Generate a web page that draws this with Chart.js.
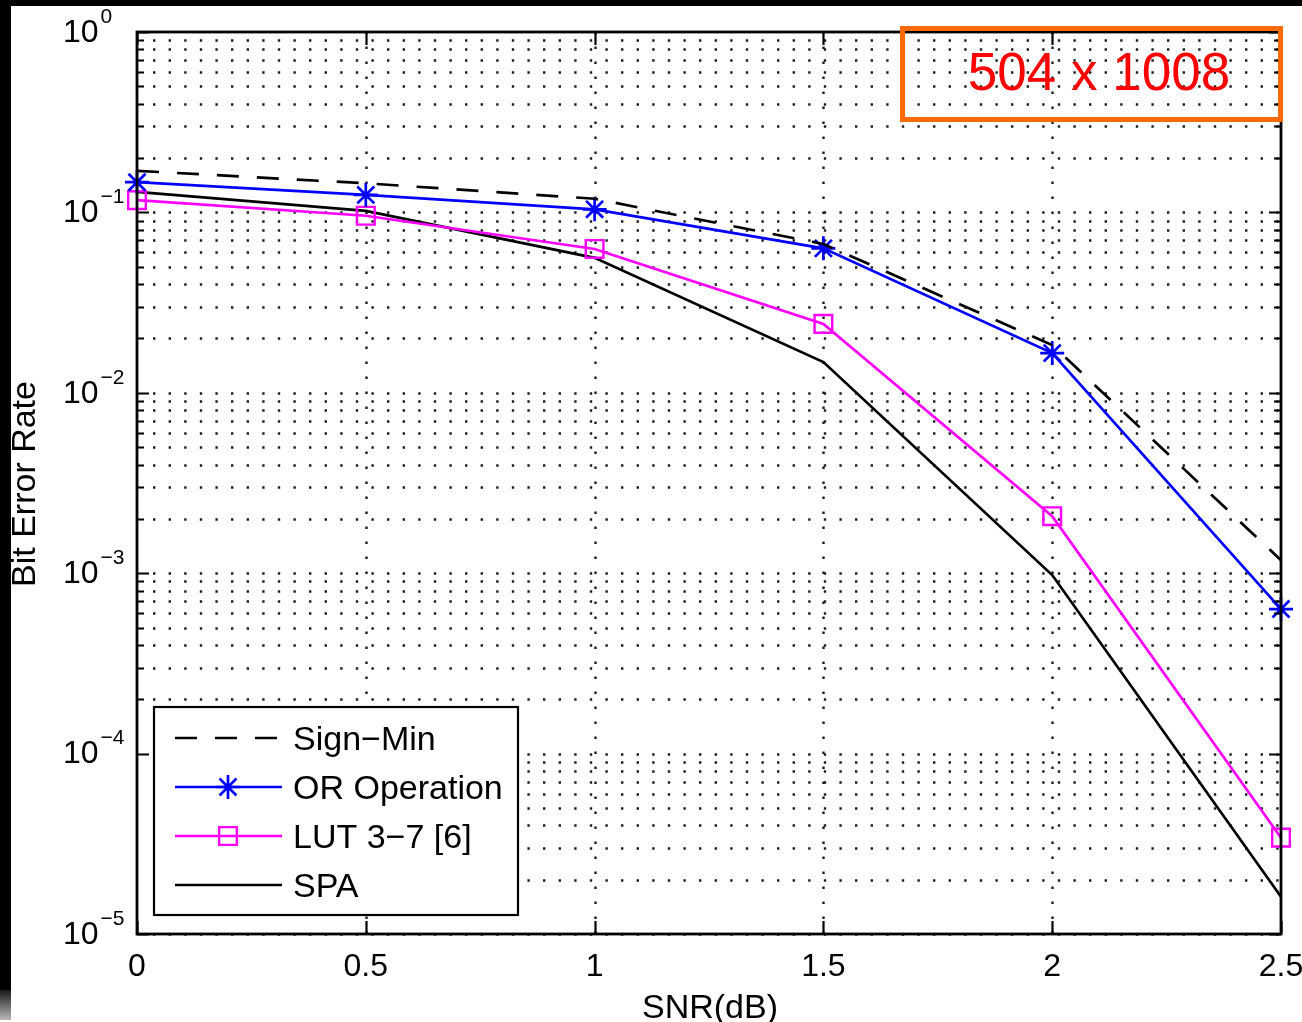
<!DOCTYPE html>
<html>
<head>
<meta charset="utf-8">
<title>BER vs SNR</title>
<script src="https://cdn.jsdelivr.net/npm/chart.js@4/dist/chart.umd.min.js"></script>
<style>
  html, body { margin: 0; padding: 0; background: #fff; }
  #wrap { position: absolute; left: 0; top: 0; width: 1302px; height: 1022px; }
</style>
</head>
<body>
<div id="wrap"><canvas id="ber" width="1302" height="1022"></canvas></div>
<script>
// SNR points (dB) and bit error rates for each decoder
var snr = [0, 0.5, 1, 1.5, 2, 2.5];
var signMin = [0.170, 0.145, 0.119, 0.0668, 0.0184, 0.00118];
var orOperation = [0.147, 0.125, 0.104, 0.0632, 0.0166, 0.000633];
var lut37 = [0.117, 0.0958, 0.0627, 0.0241, 0.00207, 0.0000342];
var spa = [0.130, 0.102, 0.056, 0.0148, 0.000977, 0.0000161];

var xTicks = [0, 0.5, 1, 1.5, 2, 2.5];
var xTickLabels = ["0", "0.5", "1", "1.5", "2", "2.5"];
var yDecades = [0, -1, -2, -3, -4, -5];

var FONT = "'Liberation Sans', Arial, Helvetica, sans-serif";

function points(values) {
  return snr.map(function (x, i) { return { x: x, y: values[i] }; });
}

var matlabAxes = {
  id: "matlabAxes",
  beforeDraw: function (chart) {
    var ctx = chart.ctx;
    ctx.save();
    ctx.fillStyle = "#fff";
    ctx.fillRect(0, 0, chart.width, chart.height);
    // dark border of the scanned figure
    ctx.fillStyle = "#000";
    ctx.fillRect(0, 0, chart.width, 6);
    ctx.fillRect(0, 0, 11, 990);
    var g = ctx.createLinearGradient(0, 990, 0, 1020);
    g.addColorStop(0, "#1a1a1a");
    g.addColorStop(1, "#b8b8b8");
    ctx.fillStyle = g;
    ctx.fillRect(0, 990, 11, 30);
    ctx.restore();
  },
  beforeDatasetsDraw: function (chart) {
    var ctx = chart.ctx;
    var a = chart.chartArea;
    var xs = chart.scales.x;
    var ys = chart.scales.y;
    ctx.save();
    ctx.strokeStyle = "#1e1e1e";
    ctx.lineWidth = 2.4;
    ctx.setLineDash([2.4, 13.2]);
    // dotted horizontal grid at every 1..9 x 10^n
    yDecades.forEach(function (e) {
      if (e === 0) return;
      for (var m = 1; m <= 9; m++) {
        var y = Math.round(ys.getPixelForValue(m * Math.pow(10, e))) + 0.5;
        ctx.beginPath();
        ctx.moveTo(a.left + 16, y);
        ctx.lineTo(a.right, y);
        ctx.stroke();
      }
    });
    // dotted vertical grid at the major x ticks
    ctx.setLineDash([2.4, 12.6]);
    xTicks.slice(1, -1).forEach(function (v) {
      var x = Math.round(xs.getPixelForValue(v)) + 0.5;
      ctx.beginPath();
      ctx.moveTo(x, a.bottom);
      ctx.lineTo(x, a.top);
      ctx.stroke();
    });
    ctx.restore();
  },
  afterDatasetsDraw: function (chart) {
    var ctx = chart.ctx;
    var a = chart.chartArea;
    var xs = chart.scales.x;
    var ys = chart.scales.y;
    ctx.save();
    ctx.setLineDash([]);
    ctx.strokeStyle = "#000";
    ctx.lineWidth = 2.8;
    ctx.strokeRect(a.left, a.top, a.right - a.left, a.bottom - a.top);

    // tick marks pointing inward
    ctx.lineWidth = 2.2;
    ctx.beginPath();
    yDecades.forEach(function (e) {
      for (var m = 1; m <= 9; m++) {
        if (e === -5 && m > 1) break;
        var y = Math.round(ys.getPixelForValue(m * Math.pow(10, e))) + 0.5;
        var len = m === 1 ? 12 : 7;
        ctx.moveTo(a.left, y); ctx.lineTo(a.left + len, y);
        ctx.moveTo(a.right, y); ctx.lineTo(a.right - len, y);
      }
    });
    xTicks.forEach(function (v) {
      var x = Math.round(xs.getPixelForValue(v)) + 0.5;
      ctx.moveTo(x, a.bottom); ctx.lineTo(x, a.bottom - 13);
      ctx.moveTo(x, a.top); ctx.lineTo(x, a.top + 13);
    });
    ctx.stroke();

    // tick labels
    ctx.fillStyle = "#000";
    ctx.textBaseline = "middle";
    ctx.textAlign = "center";
    ctx.font = "32px " + FONT;
    xTicks.forEach(function (v, i) {
      ctx.fillText(xTickLabels[i], xs.getPixelForValue(v), 967);
    });
    ctx.textAlign = "left";
    yDecades.forEach(function (e) {
      var y = ys.getPixelForValue(Math.pow(10, e));
      ctx.font = "32px " + FONT;
      ctx.fillText("10", 63, y + 1);
      var w = ctx.measureText("10").width;
      ctx.font = "21px " + FONT;
      ctx.fillText(e === 0 ? "0" : "\u2212" + (-e), 63 + w + 2, y - 15);
    });

    // axis titles
    ctx.font = "34px " + FONT;
    ctx.textAlign = "center";
    ctx.fillText("SNR(dB)", (a.left + a.right) / 2 + 1, 1009);
    ctx.save();
    ctx.translate(26, 484);
    ctx.rotate(-Math.PI / 2);
    ctx.fillText("Bit Error Rate", 0, 0);
    ctx.restore();

    // legend
    var box = { left: 154, top: 707, right: 518, bottom: 915 };
    ctx.fillStyle = "#fff";
    ctx.fillRect(box.left, box.top, box.right - box.left, box.bottom - box.top);
    ctx.lineWidth = 2.2;
    ctx.strokeStyle = "#000";
    ctx.strokeRect(box.left, box.top, box.right - box.left, box.bottom - box.top);
    var rows = [738, 787, 836, 885];
    chart.data.datasets.forEach(function (ds, i) {
      var y = rows[i];
      ctx.strokeStyle = ds.borderColor;
      ctx.lineWidth = ds.borderWidth;
      ctx.setLineDash(ds.borderDash || []);
      ctx.beginPath();
      ctx.moveTo(175, y);
      ctx.lineTo(282, y);
      ctx.stroke();
      ctx.setLineDash([]);
      if (ds.pointRadius > 0) {
        ctx.fillStyle = "rgba(0,0,0,0)";
        ctx.strokeStyle = ds.pointBorderColor;
        ctx.lineWidth = ds.pointBorderWidth;
        Chart.helpers.drawPoint(ctx, {
          pointStyle: ds.pointStyle,
          radius: ds.pointRadius,
          rotation: 0,
          borderWidth: ds.pointBorderWidth
        }, 228, y);
      }
      ctx.fillStyle = "#000";
      ctx.font = "34px " + FONT;
      ctx.textAlign = "left";
      ctx.textBaseline = "alphabetic";
      ctx.fillText(ds.label, 293, y + 12);
    });

    // size annotation
    ctx.strokeStyle = "#ff6a00";
    ctx.lineWidth = 5;
    ctx.strokeRect(902.5, 28.5, 378, 91);
    ctx.fillStyle = "#ff0000";
    ctx.font = "53px " + FONT;
    ctx.textAlign = "center";
    ctx.textBaseline = "middle";
    ctx.fillText("504 x 1008", 1099, 75);
    ctx.restore();
  }
};

new Chart(document.getElementById("ber"), {
  type: "line",
  data: {
    datasets: [
      {
        label: "Sign\u2212Min",
        data: points(signMin),
        borderColor: "#000",
        borderWidth: 2.7,
        borderDash: [22, 18],
        pointRadius: 0,
        clip: false
      },
      {
        label: "OR Operation",
        data: points(orOperation),
        borderColor: "#0000ff",
        borderWidth: 2.7,
        pointStyle: "star",
        pointRadius: 12,
        pointBorderColor: "#0000ff",
        pointBackgroundColor: "rgba(0,0,0,0)",
        pointBorderWidth: 2.7,
        clip: false
      },
      {
        label: "LUT 3\u22127 [6]",
        data: points(lut37),
        borderColor: "#ff00ff",
        borderWidth: 2.7,
        pointStyle: "rect",
        pointRadius: 12.5,
        pointBorderColor: "#ff00ff",
        pointBackgroundColor: "rgba(0,0,0,0)",
        pointBorderWidth: 2.4,
        clip: false
      },
      {
        label: "SPA",
        data: points(spa),
        borderColor: "#000",
        borderWidth: 2.7,
        pointRadius: 0,
        clip: false
      }
    ]
  },
  options: {
    responsive: false,
    animation: false,
    events: [],
    layout: { padding: { left: 0, top: 32, right: 21, bottom: 0 } },
    elements: { line: { tension: 0 } },
    plugins: { legend: { display: false }, tooltip: { enabled: false } },
    scales: {
      x: {
        type: "linear",
        min: 0,
        max: 2.5,
        ticks: { display: false },
        grid: { display: false },
        border: { display: false },
        afterFit: function (scale) { scale.height = 88; }
      },
      y: {
        type: "logarithmic",
        min: 1e-5,
        max: 1,
        ticks: { display: false },
        grid: { display: false },
        border: { display: false },
        afterFit: function (scale) { scale.width = 137; }
      }
    }
  },
  plugins: [matlabAxes]
});
</script>
</body>
</html>
